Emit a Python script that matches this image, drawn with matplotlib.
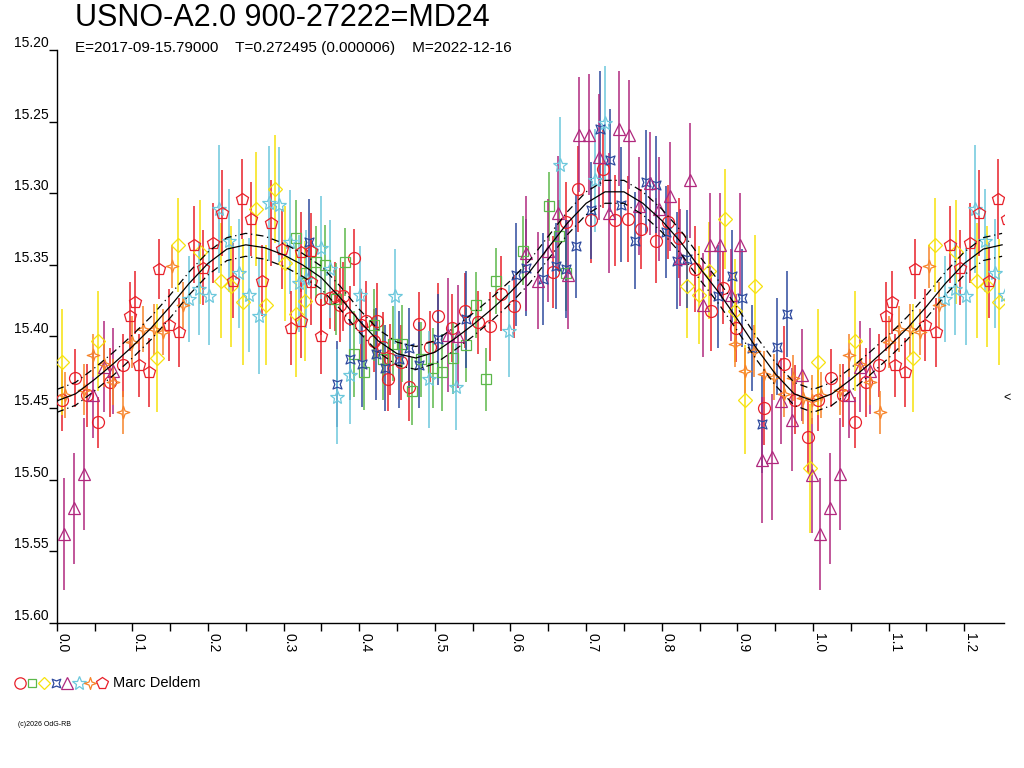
import matplotlib
matplotlib.use("Agg")
import matplotlib.pyplot as plt
import numpy as np
from matplotlib.path import Path
from matplotlib.lines import Line2D
from matplotlib.transforms import ScaledTranslation, blended_transform_factory

plt.rcParams['font.family'] = ['Liberation Sans', 'DejaVu Sans']

title = "USNO-A2.0 900-27222=MD24"
subtitle = "E=2017-09-15.79000    T=0.272495 (0.000006)    M=2022-12-16"
observer = "Marc Deldem"

# red circles
circ_ph = [0.007, 0.024, 0.040, 0.055, 0.070, 0.087, 0.350, 0.361, 0.368, 0.374, 0.379, 0.388, 0.393,
           0.403, 0.409, 0.419, 0.423, 0.432, 0.438, 0.441, 0.455, 0.466, 0.479, 0.493, 0.504,
           0.523, 0.540, 0.557, 0.573, 0.588, 0.605, 0.656, 0.673, 0.689, 0.706, 0.722, 0.738, 0.755,
           0.773, 0.792, 0.808, 0.823, 0.844, 0.865, 0.881, 0.898, 0.935, 0.962, 0.976, 0.993]
circ_mag = [15.444, 15.429, 15.441, 15.460, 15.432, 15.420, 15.374, 15.373, 15.372, 15.378, 15.372, 15.387, 15.345,
            15.392, 15.389, 15.403, 15.389, 15.407, 15.430, 15.416, 15.418, 15.435, 15.391, 15.407, 15.386,
            15.394, 15.382, 15.390, 15.393, 15.370, 15.379, 15.355, 15.320, 15.297, 15.319, 15.283, 15.319, 15.318,
            15.325, 15.333, 15.320, 15.331, 15.353, 15.382, 15.366, 15.394, 15.450, 15.419, 15.444, 15.470]
circ_err = [0.022, 0.020, 0.022, 0.018, 0.024, 0.022, 0.025, 0.022, 0.024, 0.026, 0.024, 0.022, 0.020,
            0.025, 0.028, 0.022, 0.026, 0.024, 0.022, 0.025, 0.026, 0.024, 0.022, 0.025, 0.023,
            0.024, 0.026, 0.022, 0.024, 0.026, 0.022, 0.025, 0.028, 0.030, 0.030, 0.027, 0.032, 0.030,
            0.028, 0.030, 0.026, 0.028, 0.030, 0.028, 0.025, 0.024, 0.026, 0.026, 0.024, 0.025]

# green squares
sq_ph = [0.316, 0.329, 0.343, 0.355, 0.369, 0.381, 0.393, 0.406, 0.419, 0.432, 0.444, 0.457, 0.470,
         0.482, 0.497, 0.510, 0.524, 0.541, 0.555, 0.567, 0.581, 0.616, 0.651, 0.664, 0.674]
sq_mag = [15.331, 15.356, 15.348, 15.350, 15.374, 15.348, 15.412, 15.425, 15.392, 15.416, 15.405, 15.405, 15.438,
          15.416, 15.422, 15.425, 15.415, 15.406, 15.378, 15.430, 15.361, 15.340, 15.309, 15.330, 15.356]
sq_err = [0.026, 0.024, 0.025, 0.028, 0.025, 0.024, 0.030, 0.026, 0.025, 0.028, 0.026, 0.027, 0.024,
          0.026, 0.028, 0.027, 0.025, 0.026, 0.023, 0.022, 0.023, 0.024, 0.024, 0.025, 0.026]

# yellow diamonds
dia_ph = [0.007, 0.055, 0.132, 0.161, 0.189, 0.217, 0.230, 0.246, 0.263, 0.277, 0.289, 0.302, 0.316, 0.328,
          0.833, 0.849, 0.862, 0.883, 0.897, 0.910, 0.923, 0.996]
dia_mag = [15.418, 15.403, 15.415, 15.336, 15.341, 15.361, 15.365, 15.376, 15.311, 15.378, 15.297, 15.349, 15.384, 15.375,
           15.365, 15.371, 15.354, 15.318, 15.382, 15.444, 15.365, 15.492]
dia_err = [0.037, 0.035, 0.038, 0.033, 0.036, 0.040, 0.042, 0.044, 0.040, 0.042, 0.038, 0.040, 0.044, 0.042,
           0.036, 0.034, 0.034, 0.035, 0.036, 0.038, 0.036, 0.045]

# blue astroids
ast_ph = [0.334, 0.370, 0.388, 0.404, 0.422, 0.434, 0.453, 0.466, 0.479, 0.504, 0.541, 0.607, 0.621, 0.643,
          0.660, 0.673, 0.686, 0.706, 0.719, 0.732, 0.746, 0.765, 0.779, 0.793, 0.806, 0.820, 0.833, 0.875,
          0.893, 0.906, 0.919, 0.933, 0.952, 0.965]
ast_mag = [15.334, 15.433, 15.416, 15.419, 15.412, 15.422, 15.416, 15.408, 15.420, 15.402, 15.388, 15.357, 15.352, 15.360,
           15.351, 15.353, 15.337, 15.312, 15.255, 15.277, 15.308, 15.333, 15.292, 15.294, 15.327, 15.347, 15.346, 15.372,
           15.358, 15.373, 15.408, 15.461, 15.407, 15.384]
ast_err = [0.030, 0.030, 0.028, 0.030, 0.032, 0.030, 0.034, 0.028, 0.030, 0.032, 0.034, 0.036, 0.034, 0.032,
           0.030, 0.034, 0.036, 0.034, 0.040, 0.036, 0.040, 0.034, 0.036, 0.034, 0.032, 0.034, 0.034, 0.036,
           0.032, 0.034, 0.030, 0.034, 0.034, 0.030]

# purple triangles
tri_ph = [0.009, 0.023, 0.036, 0.048, 0.062, 0.075, 0.518, 0.530, 0.621, 0.637, 0.650, 0.663, 0.676,
          0.690, 0.704, 0.717, 0.730, 0.744, 0.757, 0.770, 0.784, 0.797, 0.811, 0.824, 0.837,
          0.854, 0.864, 0.877, 0.891, 0.904, 0.933, 0.946, 0.958, 0.972, 0.986, 0.999]
tri_mag = [15.538, 15.520, 15.496, 15.441, 15.421, 15.424, 15.399, 15.400, 15.342, 15.361, 15.340, 15.314, 15.357,
           15.259, 15.259, 15.275, 15.314, 15.255, 15.259, 15.309, 15.293, 15.311, 15.302, 15.345, 15.291,
           15.378, 15.336, 15.336, 15.371, 15.336, 15.486, 15.484, 15.445, 15.458, 15.427, 15.497]
tri_err = [0.039, 0.039, 0.039, 0.030, 0.032, 0.030, 0.040, 0.036, 0.040, 0.034, 0.036, 0.040, 0.038,
           0.040, 0.042, 0.044, 0.042, 0.040, 0.038, 0.034, 0.036, 0.036, 0.038, 0.034, 0.040,
           0.036, 0.036, 0.036, 0.032, 0.036, 0.044, 0.044, 0.030, 0.036, 0.032, 0.040]

# cyan stars
star_ph = [0.175, 0.188, 0.202, 0.214, 0.228, 0.241, 0.254, 0.267, 0.281, 0.294, 0.308, 0.320, 0.330,
           0.349, 0.361, 0.371, 0.388, 0.401, 0.447, 0.492, 0.528, 0.598, 0.665, 0.712, 0.725]
star_mag = [15.374, 15.367, 15.372, 15.311, 15.333, 15.356, 15.371, 15.386, 15.307, 15.308, 15.334, 15.363, 15.360,
            15.338, 15.353, 15.442, 15.427, 15.371, 15.372, 15.430, 15.435, 15.396, 15.280, 15.291, 15.251]
star_err = [0.030, 0.032, 0.034, 0.045, 0.036, 0.038, 0.040, 0.040, 0.040, 0.040, 0.036, 0.034, 0.034,
            0.036, 0.034, 0.033, 0.034, 0.034, 0.033, 0.034, 0.030, 0.032, 0.033, 0.036, 0.040]

# orange sparkles
spk_ph = [0.011, 0.036, 0.048, 0.062, 0.075, 0.088, 0.100, 0.114, 0.128, 0.141, 0.153, 0.167,
          0.897, 0.910, 0.922, 0.935, 0.948, 0.961, 0.974, 0.987, 0.998]
spk_mag = [15.441, 15.437, 15.413, 15.419, 15.432, 15.453, 15.404, 15.395, 15.395, 15.397, 15.351, 15.378,
           15.405, 15.424, 15.410, 15.426, 15.428, 15.440, 15.429, 15.443, 15.444]
spk_err = [0.016, 0.018, 0.015, 0.016, 0.016, 0.015, 0.018, 0.016, 0.018, 0.016, 0.015, 0.016,
           0.016, 0.016, 0.018, 0.016, 0.016, 0.016, 0.016, 0.018, 0.017]

# red pentagons
pent_ph = [0.097, 0.104, 0.109, 0.122, 0.135, 0.148, 0.162, 0.181, 0.194, 0.207, 0.219, 0.233,
           0.245, 0.257, 0.271, 0.284, 0.298, 0.310, 0.323, 0.323, 0.336, 0.336, 0.349]
pent_mag = [15.386, 15.376, 15.420, 15.425, 15.353, 15.392, 15.397, 15.336, 15.352, 15.335, 15.314, 15.361,
            15.304, 15.318, 15.361, 15.321, 15.339, 15.394, 15.389, 15.341, 15.340, 15.362, 15.400]
pent_err = [0.024, 0.022, 0.022, 0.024, 0.021, 0.025, 0.024, 0.027, 0.026, 0.028, 0.030, 0.026,
            0.028, 0.026, 0.025, 0.030, 0.028, 0.026, 0.026, 0.028, 0.026, 0.030, 0.026]

# mean light curve, read every 0.025 in phase
fit_ph = np.round(np.arange(0, 1.0001, 0.025), 3)
fit_mag = [15.445, 15.440, 15.430, 15.419, 15.407, 15.394, 15.379, 15.363, 15.349, 15.339, 15.336,
           15.338, 15.343, 15.350, 15.359, 15.373, 15.389, 15.403, 15.412, 15.415, 15.411,
           15.402, 15.392, 15.381, 15.369, 15.355, 15.338, 15.321, 15.307, 15.299, 15.299,
           15.307, 15.319, 15.334, 15.352, 15.369, 15.388, 15.408, 15.426, 15.440, 15.445]
fit_sigma = 0.008
min_mark = 15.443

XMAX = 1.2525


def wrap(ph, *vals):
    ph = np.asarray(ph)
    keep = ph + 1 <= XMAX + 0.01
    out = [np.concatenate([ph, ph[keep] + 1])]
    for v in vals:
        v = np.asarray(v)
        out.append(np.concatenate([v, v[keep]]))
    return out


astroid = Path([(1, 1), (0, 0.6), (-1, 1), (-0.6, 0), (-1, -1), (0, -0.6), (1, -1), (0.6, 0), (1, 1)],
               [Path.MOVETO] + [Path.LINETO] * 7 + [Path.CLOSEPOLY])
sparkle = Path([(0, 1), (0.25, 0.25), (1, 0), (0.25, -0.25), (0, -1), (-0.25, -0.25), (-1, 0), (-0.25, 0.25), (0, 1)],
               [Path.MOVETO] + [Path.LINETO] * 7 + [Path.CLOSEPOLY])

series = [
    (circ_ph, circ_mag, circ_err, 'o', 8.6, '#e8202a'),
    (sq_ph, sq_mag, sq_err, 's', 6.8, '#5cb84a'),
    (dia_ph, dia_mag, dia_err, 'D', 6.8, '#f7e20c'),
    (ast_ph, ast_mag, ast_err, astroid, 6.5, '#2e4a9e'),
    (tri_ph, tri_mag, tri_err, '^', 8.5, '#b0287e'),
    (star_ph, star_mag, star_err, '*', 10.5, '#6cc8dc'),
    (spk_ph, spk_mag, spk_err, sparkle, 9.0, '#f7842a'),
    (pent_ph, pent_mag, pent_err, 'p', 9.0, '#e8202a'),
]

fig = plt.figure(figsize=(10.24, 7.68), dpi=100)
ax = fig.add_axes([56.7 / 1024, (768 - 623) / 768, (1004 - 56.7) / 1024, (623 - 50) / 768])

for ph, mag, err, mk, ms, col in series:
    x, y, e = wrap(ph, mag, err)
    ax.errorbar(x, y, yerr=e, fmt='none', ecolor=col, elinewidth=1.1, capsize=0, zorder=2)
    ax.plot(x, y, ls='none', marker=mk, ms=ms, mfc='none', mec=col, mew=0.9, zorder=3)

cx, cy = wrap(fit_ph[:-1], fit_mag[:-1])
order = np.argsort(cx)
cx, cy = cx[order], cy[order]
ax.plot(cx, cy, color='black', lw=0.9, zorder=4)
ax.plot(cx, cy - fit_sigma, color='black', lw=0.9, ls=(0, (6, 3, 1, 3)), zorder=4)
ax.plot(cx, cy + fit_sigma, color='black', lw=0.9, ls=(0, (6, 3, 1, 3)), zorder=4)

ax.set_xlim(0, XMAX)
ax.set_ylim(15.60, 15.20)
ax.set_xticks(np.arange(0, 1.21, 0.1))
ax.set_xticklabels([f"{v:.1f}" for v in np.arange(0, 1.21, 0.1)], rotation=-90)
ax.set_xticks(np.arange(0.05, 1.25, 0.1), minor=True)
yt = np.arange(15.20, 15.601, 0.05)
ax.set_yticks(yt)
ax.set_yticklabels([f"{v:.2f}" for v in yt])
ax.tick_params(axis='x', which='both', direction='out', length=6, width=1, pad=1, labelsize=10)
ax.tick_params(axis='y', direction='out', length=6, width=1, pad=-0.5, labelsize=10)
for lbl in ax.get_yticklabels():
    lbl.set_verticalalignment('bottom')
shift = ScaledTranslation(0.06, 0, fig.dpi_scale_trans)
for lbl in ax.get_xticklabels():
    lbl.set_transform(lbl.get_transform() + shift)
for s in ['top', 'right']:
    ax.spines[s].set_visible(False)
for s in ['left', 'bottom']:
    ax.spines[s].set_linewidth(1)

tr = blended_transform_factory(ax.transAxes, ax.transData)
ax.text(0.999, min_mark, "<", transform=tr, ha='left', va='center', fontsize=9, clip_on=False)

fig.text(75 / 1024, 1 - 18 / 768, title, fontsize=22, va='center', ha='left')
fig.text(75 / 1024, 1 - 48 / 768, subtitle, fontsize=11, va='center', ha='left')

# legend row
ly = 1 - 683 / 768
lx = [20, 32, 44, 56, 67, 79, 90, 102]
for (ph, mag, err, mk, ms, col), px in zip(series, lx):
    fig.add_artist(Line2D([px / 1024], [ly], transform=fig.transFigure, ls='none', marker=mk,
                          ms=ms * 0.95, mfc='none', mec=col, mew=0.9))
fig.text(113 / 1024, ly, observer, fontsize=10.5, va='center', ha='left')
fig.text(18 / 1024, 1 - 725 / 768, "(c)2026 OdG-RB", fontsize=5, va='center', ha='left')

fig.savefig("out.png", dpi=100)
